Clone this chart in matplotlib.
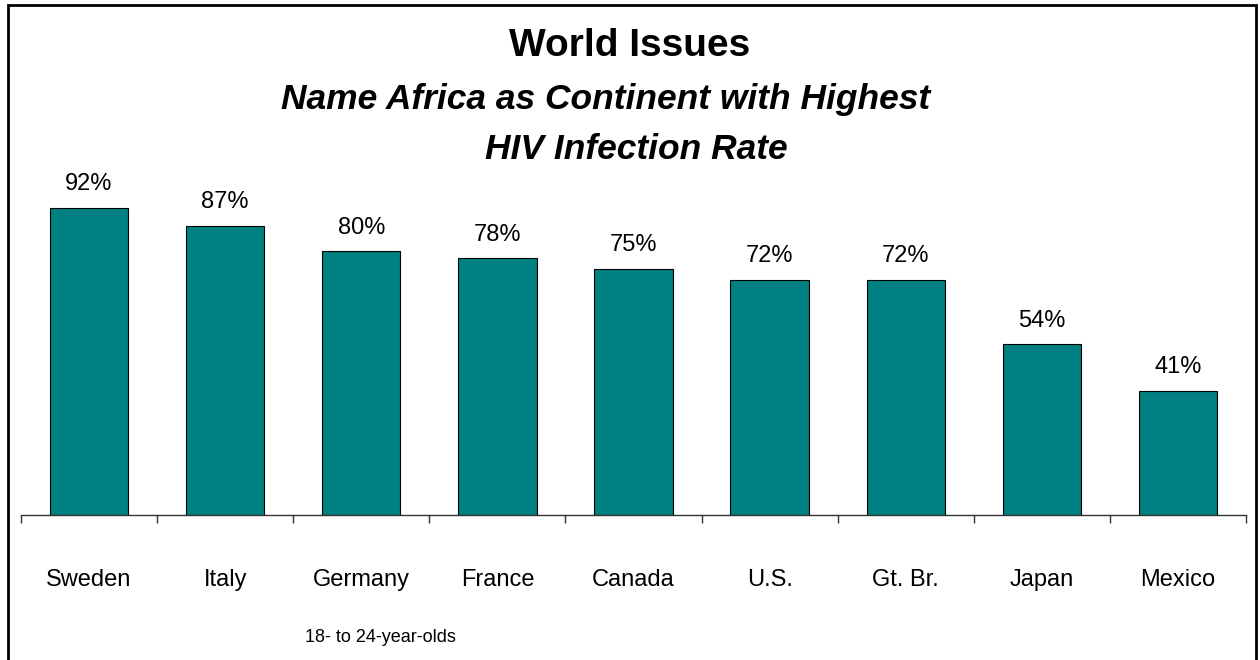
import matplotlib.pyplot as plt
from matplotlib.patches import Rectangle

# survey results, 18- to 24-year-olds
countries = ["Sweden", "Italy", "Germany", "France", "Canada", "U.S.", "Gt. Br.", "Japan", "Mexico"]
values = [92, 87, 80, 78, 75, 72, 72, 54, 41]

plt.rcParams['font.family'] = ["Liberation Sans", "DejaVu Sans"]

fig = plt.figure(figsize=(12.6, 6.6), dpi=100)
ax = fig.add_axes([21 / 1260, 145 / 660, 1225 / 1260, 355 / 660])

x = range(len(countries))
ax.bar(x, values, width=0.575, color="#008080", edgecolor="black", linewidth=0.8)

# percentage above each bar
for i, v in zip(x, values):
    ax.annotate(f"{v}%", (i, v), xytext=(0, 17), textcoords="offset points",
                ha="center", va="center", fontsize=17)

ax.set_xlim(-0.5, len(countries) - 0.5)
ax.set_ylim(6.44, 105.4)

# tick marks between categories, names at the centres
ax.set_xticks([i - 0.5 for i in range(len(countries) + 1)])
ax.set_xticklabels([])
ax.set_xticks(list(x), minor=True)
ax.set_xticklabels(countries, minor=True, fontsize=17)
ax.tick_params(axis="x", which="major", direction="out", length=6, width=1, color="#333333")
ax.tick_params(axis="x", which="minor", length=0, pad=39)
ax.set_yticks([])

for side in ["left", "right", "top"]:
    ax.spines[side].set_visible(False)
ax.spines["bottom"].set_color("#333333")
ax.spines["bottom"].set_linewidth(1)

# titles
fig.text(630 / 1260, 1 - 46 / 660, "World Issues", ha="center", va="center",
         fontsize=28, fontweight="bold")
fig.text(606 / 1260, 1 - 99 / 660, "Name Africa as Continent with Highest", ha="center",
         va="center", fontsize=25.5, fontweight="bold", style="italic")
fig.text(636 / 1260, 1 - 149 / 660, "HIV Infection Rate", ha="center", va="center",
         fontsize=25.5, fontweight="bold", style="italic")

fig.text(380 / 1260, 1 - 638 / 660, "18- to 24-year-olds", ha="center", va="center", fontsize=13)

# outer frame, open at the bottom edge
fig.patches.append(Rectangle((8 / 1260, -0.05), 1248 / 1260, 1.05 - 5 / 660,
                             transform=fig.transFigure, fill=False,
                             edgecolor="black", linewidth=2))

fig.savefig("out.png", dpi=100)
